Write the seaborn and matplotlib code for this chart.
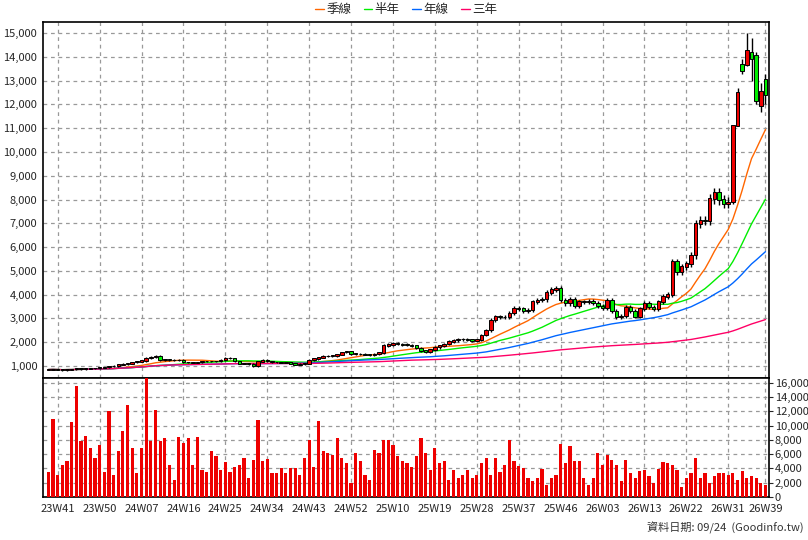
import numpy as np
import pandas as pd
import matplotlib
matplotlib.use("Agg")
import matplotlib.pyplot as plt
import seaborn as sns
from matplotlib.ticker import FuncFormatter

# 週收盤價
close = [850, 860, 840, 830, 850, 870, 880, 870, 880, 900, 910, 920, 950, 980, 1000, 1050,
         1080, 1100, 1150, 1180, 1220,
         1330, 1380, 1420, 1250, 1260, 1250, 1240,
         1250, 1150, 1150, 1140, 1150, 1200, 1200, 1190, 1200, 1250,
         1330, 1320, 1200, 1100, 1100, 1080,
         1000, 1180, 1250, 1200, 1150, 1150, 1140, 1150,
         1100, 1050, 1080, 1100, 1250, 1300, 1350, 1420, 1420, 1430, 1480, 1570, 1600, 1520, 1500, 1500, 1480, 1450, 1500, 1550,
         1860, 1900, 1960, 1920, 1900, 1880, 1850, 1750, 1650, 1600, 1680, 1780, 1850, 1920, 2030, 2080, 2120, 2130, 2100, 2060, 2100,
         2300, 2510, 2930, 3070, 3050, 3060, 3220, 3440, 3400, 3300, 3350, 3700, 3770, 3800, 4080, 4200, 4250, 3770,
         3630, 3800, 3520, 3700, 3700, 3720, 3650, 3520, 3440, 3750, 3300, 3060, 3100, 3470, 3300, 3080, 3400, 3630, 3470, 3400,
         3700, 3910, 4000, 5380, 4960, 5170, 5300, 5650, 6980, 7120, 7100, 8030, 8280, 7990, 7820, 7890,
         11100, 12490, 13400, 14270, 13910, 12140, 12560, 12380]

# 最後幾週的開盤/最高/最低
tail_open = [7890, 11100, 13700, 13670, 14200, 14050, 11930, 13050]
tail_high = [11100, 12700, 13900, 15000, 14800, 14200, 12900, 13300]
tail_low = [7800, 11500, 13300, 13600, 13000, 12000, 11700, 12000]

# 成交量 (千)
volume = [3.5, 10.9, 3.1, 4.5, 5.0, 10.5, 15.6, 7.8, 8.5, 6.8, 5.4, 7.3, 3.5, 12.0, 3.1, 6.5, 9.2, 12.9, 6.9, 3.3,
          6.9, 16.7, 7.8, 12.2, 7.9, 8.2, 4.4, 2.4, 8.4, 7.6, 8.2, 4.4, 8.4, 3.8, 3.5, 6.5, 5.7, 3.8, 4.9, 3.5,
          4.2, 4.4, 5.4, 2.6, 5.2, 10.8, 5.0, 5.3, 3.4, 3.4, 4.0, 3.4, 4.1, 4.1, 3.1, 5.4, 8.0, 4.2, 10.6, 6.5,
          6.2, 5.9, 8.2, 5.4, 4.7, 2.0, 6.2, 5.0, 3.1, 2.4, 6.6, 6.2, 8.0, 8.0, 7.3, 5.7, 5.0, 4.8, 4.2, 5.8,
          8.2, 6.2, 3.7, 6.8, 4.8, 5.0, 2.3, 3.7, 2.7, 3.1, 3.8, 2.6, 3.1, 4.7, 5.4, 3.1, 5.5, 3.5, 4.5, 8.0,
          5.0, 4.3, 4.0, 2.7, 2.2, 2.7, 3.9, 1.6, 2.7, 3.1, 7.4, 4.8, 7.2, 5.0, 5.1, 2.7, 1.6, 2.6, 6.2, 4.4,
          5.9, 5.2, 4.4, 2.2, 5.2, 3.4, 2.7, 3.6, 3.7, 2.9, 2.0, 3.9, 4.9, 4.8, 4.5, 3.7, 1.4, 2.6, 3.4, 5.4,
          2.6, 3.4, 2.0, 2.9, 3.3, 3.3, 3.0, 3.3, 2.4, 3.6, 2.6, 2.9, 2.7, 1.9, 1.7]

tick_labels = ["23W41", "23W50", "24W07", "24W16", "24W25", "24W34", "24W43", "24W52", "25W10",
               "25W19", "25W28", "25W37", "25W46", "26W03", "26W13", "26W22", "26W31", "26W39"]

ma_names = ["季線", "半年", "年線", "三年"]
ma_windows = [13, 26, 52, 156]
ma_colors = ["#ff6600", "#00ee00", "#0066ff", "#ff0066"]

n = len(close)
x = np.arange(n)
c = np.array(close, dtype=float)
o = np.r_[c[0], c[:-1]]
o[-len(tail_open):] = tail_open
hi = np.maximum(o, c) * 1.025
lo = np.minimum(o, c) * 0.975
hi[-len(tail_high):] = tail_high
lo[-len(tail_low):] = tail_low

sns.set_style("white")
plt.rcParams['font.family'] = ['Noto Sans CJK TC', 'DejaVu Sans']

fig = plt.figure(figsize=(8.08, 5.4), dpi=100)
ax = fig.add_axes([0.053, 0.30, 0.899, 0.659])
axv = fig.add_axes([0.053, 0.080, 0.899, 0.22], sharex=ax)

# 均線
df = pd.DataFrame({"x": x, "close": c})
for name, w, col in zip(ma_names, ma_windows, ma_colors):
    df[name] = df["close"].rolling(w, min_periods=1).mean()
    sns.lineplot(data=df, x="x", y=name, color=col, lw=1, ax=ax, label=name)

# K棒
up = c >= o
ax.vlines(x, lo, hi, color="black", lw=1, zorder=3)
ax.bar(x, np.abs(c - o) + 20, bottom=np.minimum(o, c), width=0.75,
       color=np.where(up, "#ee0000", "#00ee00"), edgecolor="black", lw=0.7, zorder=4)

ax.set_ylim(496, 15460)
ax.set_xlim(-1.2, n - 0.2)
ax.set_yticks(np.arange(1000, 15001, 1000))
ax.yaxis.set_major_formatter(FuncFormatter(lambda v, p: f"{int(v):,}"))
ax.set_xlabel("")
ax.set_ylabel("")
ax.tick_params(axis="x", labelbottom=False, length=0)
ax.tick_params(axis="y", labelsize=8, length=3, pad=1)
ax.grid(True, ls=(0, (3, 3)), color="#999999", lw=0.9)
ax.legend(loc="lower center", bbox_to_anchor=(0.5, 1.0), ncol=4, frameon=False,
          fontsize=9, handlelength=0.7, handletextpad=0.2, columnspacing=1.0, borderaxespad=0.1)

# 成交量
vdf = pd.DataFrame({"x": x, "vol": np.array(volume) * 1000})
axv.bar(vdf["x"], vdf["vol"], width=0.68, color="#ee0000", lw=0, antialiased=False, zorder=3)
axv.set_ylim(0, 16700)
axv.set_yticks(np.arange(0, 16001, 2000))
axv.yaxis.set_major_formatter(FuncFormatter(lambda v, p: f"{int(v):,}"))
axv.yaxis.tick_right()
tick_pos = list(range(2, 2 + 9 * 17, 9)) + [n - 1]
axv.set_xticks(tick_pos)
axv.set_xticklabels(tick_labels)
axv.set_xlim(-1.2, n - 0.2)
axv.tick_params(axis="x", labelsize=8, length=3, pad=2)
axv.tick_params(axis="y", labelsize=8, length=3, pad=1)
axv.grid(True, ls=(0, (3, 3)), color="#999999", lw=0.9)
axv.set_axisbelow(True)

for a in (ax, axv):
    for s in a.spines.values():
        s.set_color("black")
        s.set_linewidth(1.2)

fig.text(0.995, 0.012, "資料日期: 09/24  (Goodinfo.tw)", ha="right", va="bottom", fontsize=8, color="#333333")

fig.savefig("out.png", dpi=100)
